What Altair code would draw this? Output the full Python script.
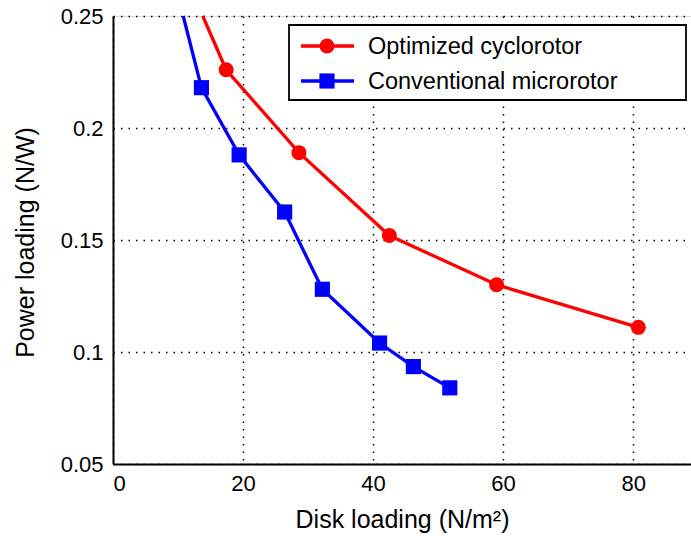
import altair as alt
import pandas as pd

# ---- data ----
cyclo_x = [17.4, 28.6, 42.5, 59.0, 80.8]
cyclo_y = [0.226, 0.189, 0.152, 0.130, 0.111]
cyclo_edge = (13.8, 0.25)   # where the red line leaves the top of the plot

micro_x = [13.6, 19.4, 26.4, 32.2, 41.0, 46.2, 51.8]
micro_y = [0.218, 0.188, 0.1625, 0.128, 0.104, 0.0935, 0.084]
micro_edge = (10.8, 0.25)   # where the blue line leaves the top of the plot

x_ticks = [0, 20, 40, 60, 80]
y_ticks = [0.05, 0.1, 0.15, 0.2, 0.25]
legend_labels = ["Optimized cyclorotor", "Conventional microrotor"]
colors = ["#FF0000", "#0000FF"]

FONT = "Liberation Sans"

def line_df(edge, xs, ys):
    return pd.DataFrame({"x": [edge[0]] + xs, "y": [edge[1]] + ys})

cyc_line = line_df(cyclo_edge, cyclo_x, cyclo_y)
mic_line = line_df(micro_edge, micro_x, micro_y)
cyc_pts = pd.DataFrame({"x": cyclo_x, "y": cyclo_y})
mic_pts = pd.DataFrame({"x": micro_x, "y": micro_y})

xscale = alt.Scale(domain=[0, 88.9], nice=False, zero=False)
yscale = alt.Scale(domain=[0.05, 0.25], nice=False, zero=False)

xaxis = alt.Axis(
    values=x_ticks, title="Disk loading (N/m²)", grid=True, ticks=False,
    labelFontSize=22, labelPadding=9, labelFont=FONT, labelColor="black",
    titleFont=FONT, titleFontSize=25, titleFontWeight="normal", titleColor="black",
    titleBaseline="alphabetic", titleY=63,
    domainColor="black", domainWidth=2,
    gridColor="black", gridDash=[1.5, 6], gridWidth=1.5, gridOpacity=1,
)
yaxis = alt.Axis(
    values=y_ticks, format=".2~f", title="Power loading (N/W)", grid=True, ticks=False,
    labelFontSize=22, labelPadding=10, labelFont=FONT, labelColor="black",
    titleFont=FONT, titleFontSize=25, titleFontWeight="normal", titleColor="black",
    titleAngle=-90, titleBaseline="alphabetic", titleAlign="center",
    titleX=-80, titleY=226,
    domainColor="black", domainWidth=2,
    gridColor="black", gridDash=[1.5, 6], gridWidth=1.5, gridOpacity=1,
)

def series(line_data, pt_data, color, shape, size):
    ln = alt.Chart(line_data).mark_line(color=color, strokeWidth=3.3).encode(
        x=alt.X("x:Q", scale=xscale, axis=xaxis),
        y=alt.Y("y:Q", scale=yscale, axis=yaxis),
    )
    pt = alt.Chart(pt_data).mark_point(
        shape=shape, filled=True, color=color, size=size, opacity=1
    ).encode(x=alt.X("x:Q", scale=xscale), y=alt.Y("y:Q", scale=yscale))
    return ln + pt

micro = series(mic_line, mic_pts, colors[1], "square", 230)
cyclo = series(cyc_line, cyc_pts, colors[0], "circle", 225)

# ---- legend (drawn in pixel space, top-right of the plot) ----
dummy = alt.Data(values=[{"k": 0}])
legend_box = alt.Chart(dummy).mark_rect(fill="white", stroke="black", strokeWidth=1.8).encode(
    x=alt.value(176), x2=alt.value(573), y=alt.value(9), y2=alt.value(84)
)

def legend_entry(label, color, shape, size, ypix):
    rule = alt.Chart(dummy).mark_rule(color=color, strokeWidth=3.3).encode(
        x=alt.value(188), x2=alt.value(241), y=alt.value(ypix)
    )
    sym = alt.Chart(dummy).mark_point(
        shape=shape, filled=True, color=color, size=size, opacity=1
    ).encode(x=alt.value(214), y=alt.value(ypix))
    txt = alt.Chart(dummy).mark_text(
        align="left", baseline="middle", font=FONT, fontSize=23.5, color="black"
    ).encode(x=alt.value(255), y=alt.value(ypix + 1), text=alt.value(label))
    return rule + sym + txt

leg1 = legend_entry(legend_labels[0], colors[0], "circle", 225, 30)
leg2 = legend_entry(legend_labels[1], colors[1], "square", 230, 65)

chart = alt.layer(micro, cyclo, legend_box, leg1, leg2).properties(
    width=578, height=448,
    autosize=alt.AutoSizeParams(type="none"),
    padding={"left": 113, "top": 16, "right": 0, "bottom": 76},
).configure_view(
    stroke="black", strokeWidth=2
).configure(background="white")

chart.save("out.html", embed_options={"renderer": "svg", "actions": False})
